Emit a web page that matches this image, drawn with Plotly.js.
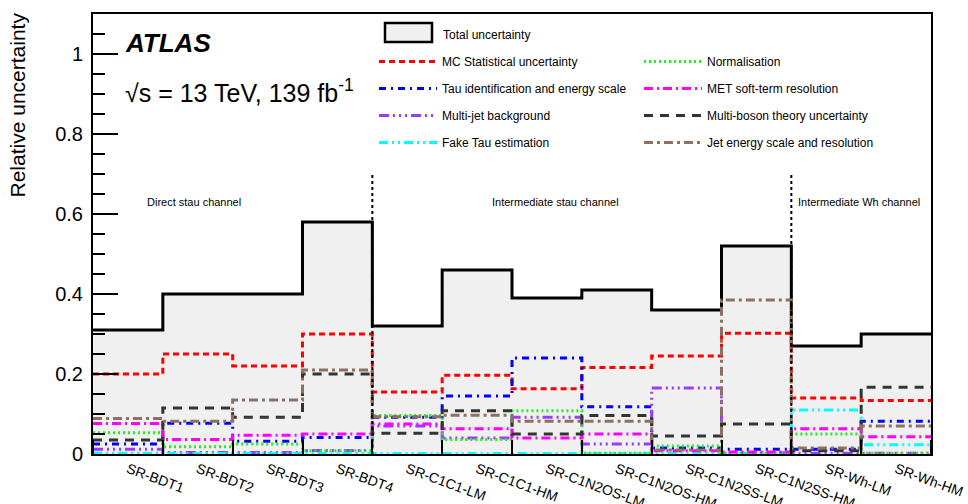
<!DOCTYPE html>
<html>
<head>
<meta charset="utf-8">
<script src="https://cdn.plot.ly/plotly-3.0.1.min.js"></script>
<style>html,body{margin:0;padding:0;background:#fff;}#chart{width:968px;height:504px;}</style>
</head>
<body>
<div id="chart"></div>
<script>
// ---- data ----
const categories = ["SR-BDT1","SR-BDT2","SR-BDT3","SR-BDT4","SR-C1C1-LM","SR-C1C1-HM","SR-C1N2OS-LM","SR-C1N2OS-HM","SR-C1N2SS-LM","SR-C1N2SS-HM","SR-Wh-LM","SR-Wh-HM"];
const channelNames = ["Direct stau channel","Intermediate stau channel","Intermediate Wh channel"];
const channelSizes = [4, 6, 2];

const totalUnc   = [0.31, 0.40, 0.40, 0.58, 0.32, 0.46, 0.39, 0.41, 0.36, 0.52, 0.27, 0.30];
const mcStat     = [0.20, 0.25, 0.22, 0.30, 0.155, 0.197, 0.163, 0.216, 0.245, 0.302, 0.14, 0.134];
const tauId      = [0.025, 0.077, 0.032, 0.041, 0.092, 0.145, 0.24, 0.118, 0.015, 0.012, 0.012, 0.082];
const multiJet   = [0.012, 0.004, 0.004, 0.009, 0.070, 0.040, 0.092, 0.025, 0.165, 0.003, 0.002, 0.002];
const fakeTau    = [0.002, 0.001, 0.001, 0.001, 0.001, 0.001, 0.001, 0.001, 0.001, 0.001, 0.11, 0.023];
const normalis   = [0.053, 0.018, 0.025, 0.008, 0.096, 0.036, 0.108, 0.002, 0.02, 0.002, 0.05, 0.002];
const metSoft    = [0.076, 0.036, 0.047, 0.05, 0.075, 0.063, 0.04, 0.05, 0.008, 0.005, 0.063, 0.043];
const multiBoson = [0.035, 0.115, 0.092, 0.20, 0.052, 0.108, 0.05, 0.096, 0.045, 0.075, 0.008, 0.167];
const jes        = [0.089, 0.082, 0.135, 0.21, 0.093, 0.097, 0.082, 0.082, 0.01, 0.385, 0.015, 0.07];

// ---- helpers ----
const FONT = "Liberation Sans, Arial, Helvetica, sans-serif";
const n = categories.length;
const edges = Array.from({length: n + 1}, (_, i) => i - 0.5);
function stepY(v) { return v.concat([v[v.length - 1]]); }

function comp(name, vals, color, dash, legend, group) {
  return {
    type: "scatter", mode: "lines", name: name,
    x: edges, y: stepY(vals),
    line: {shape: "hv", color: color, width: 3, dash: dash},
    legend: legend, legendgroup: group,
    hoverinfo: "skip"
  };
}

const traces = [
  {
    type: "scatter", mode: "lines", name: "Total uncertainty",
    x: edges, y: stepY(totalUnc),
    line: {shape: "hv", color: "#000", width: 3},
    fill: "tozeroy", fillcolor: "#f0f0f0",
    showlegend: false, hoverinfo: "skip"
  },
  comp("MC Statistical uncertainty", mcStat, "#ff0000", "6px,4px", "legend2", "a1"),
  comp("Tau identification and energy scale", tauId, "#0000ff", "7px,5px,2px,5px", "legend2", "a2"),
  comp("Multi-jet background", multiJet, "#9a3cff", "10px,4px,2px,4px,2px,4px,2px,4px", "legend2", "a3"),
  comp("Fake Tau estimation", fakeTau, "#00ffff", "9px,4px,2px,4px,2px,4px", "legend2", "a4"),
  comp("Normalisation", normalis, "#22ee22", "2px,3px", "legend3", "b1"),
  comp("MET soft-term resolution", metSoft, "#ff00ff", "9px,4px,2px,4px", "legend3", "b2"),
  comp("Multi-boson theory uncertainty", multiBoson, "#333333", "9px,7px", "legend3", "b3"),
  comp("Jet energy scale and resolution", jes, "rgb(140,112,96)", "9px,4px,3px,4px", "legend3", "b4")
];

const px = v => (v - 93) / 838;      // paper x from pixel
const py = v => (454 - v) / 440;     // paper y from pixel

// channel dividers
let cum = 0;
const shapes = [];
channelSizes.slice(0, -1).forEach(s => {
  cum += s;
  const xe = edges[cum];
  shapes.push({type: "line", xref: "x", yref: "y", x0: xe, x1: xe, y0: 0, y1: 0.7,
    line: {color: "#000", width: 2, dash: "dot"}, layer: "above"});
});
// legend symbol box for the total uncertainty
shapes.push({type: "rect", xref: "paper", yref: "paper", x0: px(385), x1: px(432), y0: py(42), y1: py(23),
  fillcolor: "#f0f0f0", line: {color: "#000", width: 2.5}, layer: "above"});

const channelLabelX = [0.24, 5.19, 9.56];
const annotations = [
  {text: "<b><i>ATLAS</i></b>", xref: "paper", yref: "paper", x: px(123), y: py(43),
   xanchor: "left", yanchor: "middle", showarrow: false, font: {family: FONT, size: 26, color: "#000"}},
  {text: "√s = 13 TeV, 139 fb<sup>-1</sup>", xref: "paper", yref: "paper", x: px(123), y: py(91),
   xanchor: "left", yanchor: "middle", showarrow: false, font: {family: FONT, size: 25, color: "#000"}},
  {text: "Relative uncertainty", xref: "paper", yref: "paper", x: px(17), y: py(11),
   xanchor: "center", yanchor: "top", textangle: -90, showarrow: false, font: {family: FONT, size: 21, color: "#000"}},
  {text: "Total uncertainty", xref: "paper", yref: "paper", x: px(441), y: py(35),
   xanchor: "left", yanchor: "middle", showarrow: false, font: {family: FONT, size: 12, color: "#000"}}
];
channelNames.forEach((nm, i) => {
  annotations.push({text: nm, xref: "x", yref: "y", x: channelLabelX[i], y: 0.63,
    xanchor: "left", yanchor: "middle", showarrow: false, font: {family: FONT, size: 11, color: "#000"}});
});

const legendBase = {bgcolor: "rgba(0,0,0,0)", borderwidth: 0, font: {family: FONT, size: 12, color: "#000"},
  xanchor: "left", yanchor: "top", tracegroupgap: 8, itemwidth: 58, itemclick: false, itemdoubleclick: false};

const layout = {
  width: 968, height: 504,
  margin: {l: 93, r: 37, t: 14, b: 50, pad: 0},
  paper_bgcolor: "#fff", plot_bgcolor: "#fff",
  font: {family: FONT, color: "#000"},
  showlegend: true,
  legend2: Object.assign({}, legendBase, {x: px(374), y: 0.925}),
  legend3: Object.assign({}, legendBase, {x: px(639), y: 0.925}),
  xaxis: {
    range: [-0.5, 11.5], tickmode: "array", tickvals: categories.map((_, i) => i), ticktext: categories,
    tickangle: 20, ticks: "", tickfont: {family: FONT, size: 14, color: "#000"},
    showline: true, linecolor: "#000", linewidth: 2, mirror: true, showgrid: false, zeroline: false,
    automargin: false,
    minor: {tickmode: "linear", tick0: 0.5, dtick: 1, ticks: "inside", ticklen: 14, tickwidth: 2, tickcolor: "#000", showgrid: false}
  },
  yaxis: {
    range: [0, 1.1], tickmode: "linear", tick0: 0, dtick: 0.2, ticks: "inside", ticklen: 25, tickwidth: 2, tickcolor: "#000",
    tickfont: {family: FONT, size: 20, color: "#000"}, ticklabelstandoff: 4,
    showline: true, linecolor: "#000", linewidth: 2, mirror: true, showgrid: false, zeroline: false,
    automargin: false,
    minor: {dtick: 0.05, ticks: "inside", ticklen: 12, tickwidth: 2, tickcolor: "#000", showgrid: false}
  },
  shapes: shapes,
  annotations: annotations
};

Plotly.newPlot("chart", traces, layout, {staticPlot: true, displayModeBar: false});
</script>
</body>
</html>
